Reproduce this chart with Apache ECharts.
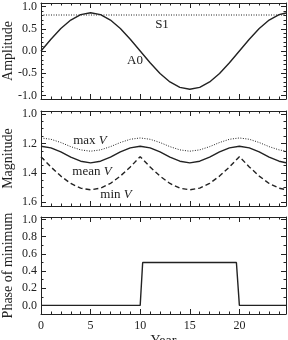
<!DOCTYPE html>
<html>
<head>
<meta charset="utf-8">
<script src="https://cdn.jsdelivr.net/npm/echarts@6/dist/echarts.min.js"></script>
<style>
  html, body { margin: 0; padding: 0; background: #fff; }
  #chart { width: 288px; height: 340px; }
</style>
</head>
<body>
<div id="chart"></div>
<script>
// datos
const years = [0, 1, 2, 3, 4, 5, 6, 7, 8, 9, 10, 11, 12, 13, 14, 15, 16, 17, 18, 19, 20, 21, 22, 23, 24, 24.7];
const a0 = [0, 0.266, 0.506, 0.696, 0.818, 0.86, 0.818, 0.696, 0.506, 0.266,
            0, -0.266, -0.506, -0.696, -0.818, -0.86, -0.818, -0.696, -0.506, -0.266,
            0, 0.266, 0.506, 0.696, 0.818, 0.855];
const s1Years = [0, 24.7];
const s1 = [0.81, 0.81];
const maxV = [1.163, 1.172, 1.194, 1.222, 1.244, 1.253, 1.244, 1.222, 1.194, 1.172,
              1.163, 1.172, 1.194, 1.222, 1.244, 1.253, 1.244, 1.222, 1.194, 1.172,
              1.163, 1.172, 1.194, 1.222, 1.244, 1.252];
const meanV = [1.219, 1.230, 1.258, 1.293, 1.321, 1.332, 1.321, 1.293, 1.258, 1.230,
               1.219, 1.230, 1.258, 1.293, 1.321, 1.332, 1.321, 1.293, 1.258, 1.230,
               1.219, 1.230, 1.258, 1.293, 1.321, 1.331];
const minV = [1.290, 1.360, 1.422, 1.472, 1.504, 1.515, 1.504, 1.472, 1.422, 1.360,
              1.290, 1.360, 1.422, 1.472, 1.504, 1.515, 1.504, 1.472, 1.422, 1.360,
              1.290, 1.360, 1.422, 1.472, 1.504, 1.514];
const phaseYears = [0, 10, 10.25, 19.7, 20, 24.7];
const phase = [0, 0, 0.5, 0.5, 0, 0];

// marcas de los ejes
const xMajor = [0, 5, 10, 15, 20];
const ampTicks = [-1.0, -0.5, 0.0, 0.5, 1.0];
const magTicks = [1.0, 1.2, 1.4, 1.6];
const phaseTicks = [0.0, 0.2, 0.4, 0.6, 0.8, 1.0];

const XMAX = 24.7;
const INK = '#222';
const FONT = 'Liberation Serif';

// marcas menores: pasos entre min y max que no caen en las mayores
function minors(a, b, d, major) {
  const out = [];
  for (let v = a; v <= b + 1e-9; v += d) {
    const r = Math.round(v * 1000) / 1000;
    if (!major.some(m => Math.abs(m - r) < 1e-6)) out.push(r);
  }
  return out;
}
const xMinor = minors(0, 24, 1, xMajor);

const grids = [
  { left: 41, right: 2, top: 3, height: 96 },
  { left: 41, right: 2, top: 111, height: 95 },
  { left: 41, right: 2, top: 217, height: 97 }
];

const panels = [
  { min: -1.08, max: 1.08, inverse: false, major: ampTicks, minor: minors(-1, 1, 0.1, ampTicks), name: 'Amplitude' },
  { min: 0.98, max: 1.625, inverse: true, major: magTicks, minor: minors(1.0, 1.6, 0.05, magTicks), name: 'Magnitude' },
  { min: -0.1, max: 1.03, inverse: false, major: phaseTicks, minor: minors(-0.1, 1.0, 0.1, phaseTicks), name: 'Phase of minimum' }
];

const xAxes = [];
const yAxes = [];
panels.forEach((p, gi) => {
  ['bottom', 'top'].forEach(pos => {
    [true, false].forEach(major => {
      const main = pos === 'bottom' && major;
      xAxes.push({
        type: 'value', gridIndex: gi, position: pos, min: 0, max: XMAX,
        name: (main && gi === 2) ? 'Year' : '',
        nameLocation: 'middle', nameGap: 20, nameMoveOverlap: false,
        nameTextStyle: { fontFamily: FONT, fontSize: 14, color: INK },
        axisLine: { show: major, onZero: false, lineStyle: { color: INK, width: 1 } },
        axisTick: { show: true, inside: true, length: major ? 5 : 2.5,
                    customValues: major ? xMajor : xMinor, lineStyle: { color: INK, width: 1 } },
        axisLabel: { show: main && gi === 2, customValues: xMajor, margin: 6,
                     fontFamily: FONT, fontSize: 12, color: INK },
        splitLine: { show: false }
      });
    });
  });
  ['left', 'right'].forEach(pos => {
    [true, false].forEach(major => {
      const main = pos === 'left' && major;
      yAxes.push({
        type: 'value', gridIndex: gi, position: pos, min: p.min, max: p.max, inverse: p.inverse,
        name: main ? p.name : '',
        nameLocation: 'middle', nameGap: 26, nameMoveOverlap: false,
        nameTextStyle: { fontFamily: FONT, fontSize: 14, color: INK },
        axisLine: { show: major, onZero: false, lineStyle: { color: INK, width: 1 } },
        axisTick: { show: true, inside: true, length: major ? 5 : 2.5,
                    customValues: major ? p.major : p.minor, lineStyle: { color: INK, width: 1 } },
        axisLabel: { show: main, customValues: p.major, margin: 4,
                     formatter: v => Number(v).toFixed(1),
                     fontFamily: FONT, fontSize: 12, color: INK },
        splitLine: { show: false }
      });
    });
  });
});

function linea(xs, ys, gi, type, width) {
  return {
    type: 'line', xAxisIndex: gi * 4, yAxisIndex: gi * 4,
    data: xs.map((x, i) => [x, ys[i]]),
    showSymbol: false, symbol: 'none', silent: true,
    lineStyle: { color: INK, width: width, type: type }
  };
}

const italicV = { fontStyle: 'italic', fontFamily: FONT, fontSize: 13, fill: INK };
function etiqueta(text, x, y) {
  return {
    type: 'text', x: x, y: y,
    style: { text: text, fontFamily: FONT, fontSize: 13, fill: INK,
             align: 'center', verticalAlign: 'middle', rich: { i: italicV, n: { fontFamily: FONT, fontSize: 13, fill: INK } } }
  };
}

const chart = echarts.init(document.getElementById('chart'), null, { renderer: 'canvas' });
chart.setOption({
  animation: false,
  backgroundColor: '#fff',
  grid: grids.map(g => Object.assign({ containLabel: false, outerBoundsMode: 'none' }, g)),
  xAxis: xAxes,
  yAxis: yAxes,
  series: [
    linea(years, a0, 0, 'solid', 1.4),
    linea(s1Years, s1, 0, [1, 1.5], 1),
    linea(years, maxV, 1, [1, 1.5], 1),
    linea(years, meanV, 1, 'solid', 1.4),
    linea(years, minV, 1, [5, 3], 1.4),
    linea(phaseYears, phase, 2, 'solid', 1.4)
  ],
  graphic: [
    etiqueta('S1', 162, 25),
    etiqueta('A0', 135, 61),
    etiqueta('{n|max }{i|V}', 90, 141),
    etiqueta('{n|mean }{i|V}', 92, 172),
    etiqueta('{n|min }{i|V}', 116, 195)
  ]
});
</script>
</body>
</html>
